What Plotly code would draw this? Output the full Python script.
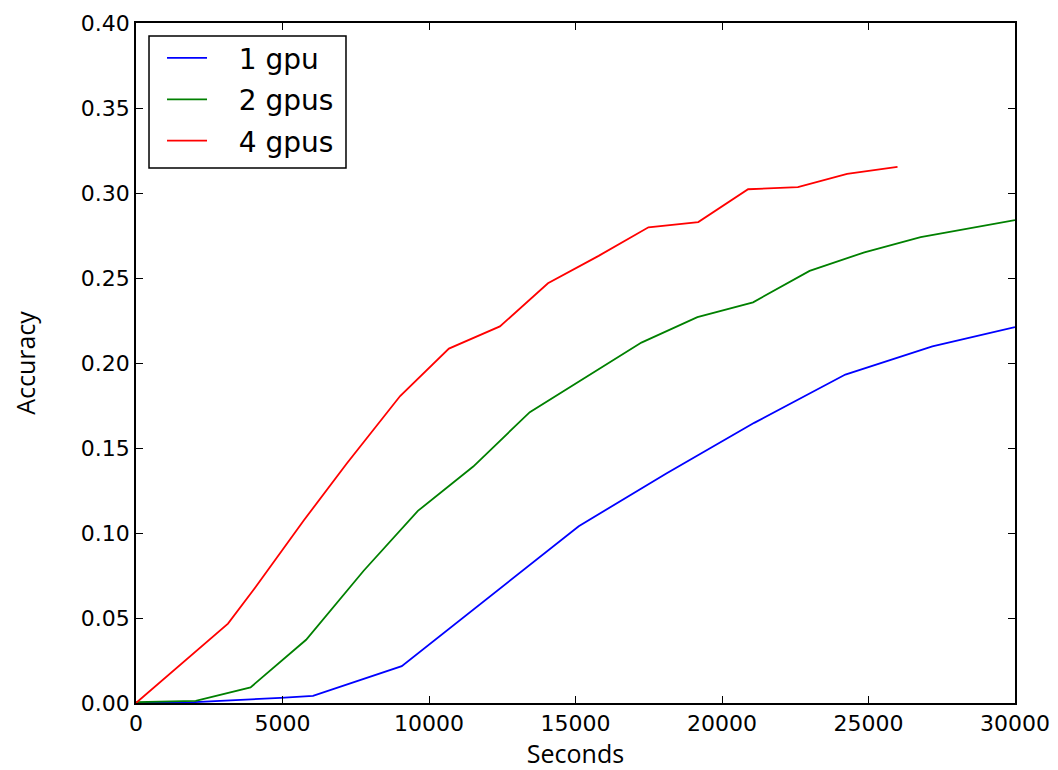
import plotly.graph_objects as go

# Data
x_1gpu = [0, 1985, 4930, 6040, 9070, 11900, 15110, 18100, 21100, 24210, 27180, 30000]
y_1gpu = [0.0, 0.0005, 0.003, 0.0042, 0.0217, 0.0604, 0.1040, 0.1350, 0.1648, 0.1932, 0.2098, 0.2211]

x_2gpus = [0, 2040, 3910, 5806, 7770, 9620, 11510, 13440, 17250, 19160, 21060, 22990, 24860, 26780, 30000]
y_2gpus = [0.0005, 0.0012, 0.0092, 0.0372, 0.0778, 0.1130, 0.1391, 0.1711, 0.2120, 0.2270, 0.2357, 0.2542, 0.2651, 0.2741, 0.2840]

x_4gpus = [0, 3140, 4000, 5730, 7200, 9015, 10680, 12420, 14060, 15790, 17490, 19190, 20890, 22590, 24270, 25990]
y_4gpus = [0.0, 0.0467, 0.0663, 0.1075, 0.1410, 0.1806, 0.2085, 0.2215, 0.2469, 0.2630, 0.2798, 0.2829, 0.3022, 0.3034, 0.3112, 0.3154]

names = ["1 gpu", "2 gpus", "4 gpus"]
colors = ["#0000ff", "#008000", "#ff0000"]
xs_all = [x_1gpu, x_2gpus, x_4gpus]
ys_all = [y_1gpu, y_2gpus, y_4gpus]

x_ticks = [0, 5000, 10000, 15000, 20000, 25000, 30000]
y_ticks = [0.0, 0.05, 0.10, 0.15, 0.20, 0.25, 0.30, 0.35, 0.40]

fig = go.Figure()
pad = "\u00a0\u00a0\u00a0"  # gap between legend line sample and label, as in the reference
for name, xs, ys, color in zip(names, xs_all, ys_all, colors):
    fig.add_trace(go.Scatter(
        x=xs, y=ys, mode="lines", name=pad + name, legendgroup=name,
        line=dict(color=color, width=1.8),
    ))

tick_font = dict(family="DejaVu Sans", size=22, color="#000000")
title_font = dict(family="Open Sans", size=25, color="#000000")

# legend frame
fig.add_shape(
    type="rect", xref="paper", yref="paper",
    x0=0.0148, x1=0.2389, y0=0.7868, y1=0.981,
    line=dict(color="black", width=1.5), fillcolor="white", layer="above",
)

fig.update_layout(
    width=1050, height=762,
    margin=dict(l=128, r=43, t=15, b=67),
    paper_bgcolor="white", plot_bgcolor="white",
    showlegend=True,
    legend=dict(
        x=0.0296, y=0.985, xanchor="left", yanchor="top",
        bgcolor="rgba(0,0,0,0)", borderwidth=0,
        font=dict(family="DejaVu Sans", size=28, color="#000000"),
        tracegroupgap=2, itemwidth=40,
    ),
    xaxis=dict(
        range=[0, 30000], tickvals=x_ticks, ticktext=[str(v) for v in x_ticks],
        ticks="inside", ticklen=7, tickwidth=1, tickcolor="black",
        showline=True, linecolor="black", linewidth=1.5, mirror="ticks",
        showgrid=False, zeroline=False, tickfont=tick_font, automargin=False,
        title=dict(text="Seconds", font=title_font),
    ),
    yaxis=dict(
        range=[0, 0.40], tickvals=y_ticks, ticktext=[f"{v:.2f}" for v in y_ticks],
        ticks="inside", ticklen=7, tickwidth=1, tickcolor="black",
        showline=True, linecolor="black", linewidth=1.5, mirror="ticks",
        showgrid=False, zeroline=False, tickfont=tick_font, automargin="left",
        title=dict(text="Accuracy", font=title_font, standoff=42),
    ),
)

fig.write_html("out.html")
